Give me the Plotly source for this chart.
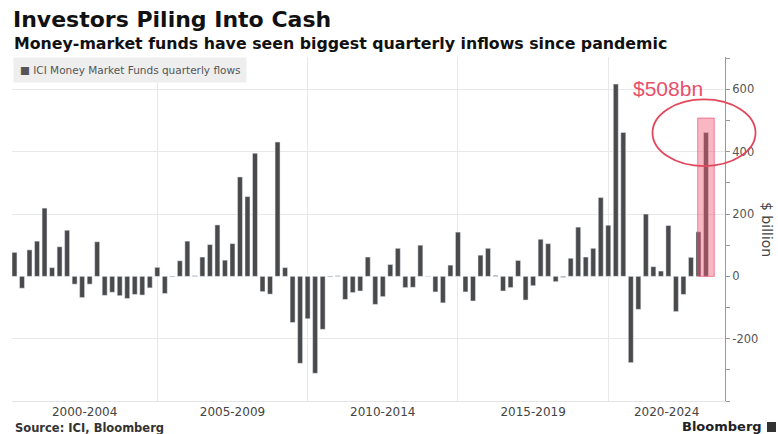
import plotly.graph_objects as go

# ---- data ----
years = list(range(2000, 2024))
quarters = [f"{y}Q{q}" for y in years for q in range(1, 5)][:93]  # 2000Q1 .. 2023Q1
flows = [
    77, -38, 85, 113, 219, 28, 95, 148, -25, -68, -25, 111, -61, -51, -62, -71, -58, -60, -37, 29,
    -55, -2, 50, 113, 2, 62, 102, 165, 52, 105, 319, 256, 395, -49, -57, 431, 28, -148, -279, -136,
    -311, -170, -2, 2, -74, -52, -47, 62, -90, -65, 38, 90, -36, -35, 100, -1, -50, -85, 36, 142,
    -50, -79, 68, 90, 3, -47, -36, 51, -76, -30, 119, 105, -17, -3, 58, 158, 62, 90, 253, 164,
    617, 462, -277, -106, 200, 31, 17, 163, -113, -58, 61, 143, 462,
]
period_labels = ["2000-2004", "2005-2009", "2010-2014", "2015-2019", "2020-2024"]
highlight_value = 508
highlight_label = "$508bn"
y_ticks = [-200, 0, 200, 400, 600]
y_ticktext = ["-200", "0", "200", "400", "600"]

# ---- layout helpers ----
W, H = 778, 434
ML, MR, MT, MB = 12, 53, 57, 33
x_idx = list(range(len(flows)))
x_range = [-0.33, 94.53]
y_range = [-400, 704]
# period boundaries at each Q4 bar (index)
bounds = [19, 39, 59, 79]
edges = [x_range[0]] + bounds + [x_range[1]]
label_pos = [(edges[i] + edges[i + 1]) / 2 for i in range(len(period_labels))]
hi_idx = quarters.index("2023Q1")

def px_x(px):
    return (px - ML) / (W - ML - MR)

def px_y(py):
    return (H - MB - py) / (H - MT - MB)

def idx_to_paper(i):
    return (i - x_range[0]) / (x_range[1] - x_range[0])

fig = go.Figure()
fig.add_trace(go.Bar(
    x=x_idx, y=flows, width=0.66, marker_color="#4a4a4a",
    name="ICI Money Market Funds quarterly flows", showlegend=False,
    customdata=quarters, hovertemplate="%{customdata}: %{y}<extra></extra>",
))

shapes = [
    # highlighted quarter box
    dict(type="rect", xref="x", yref="y", x0=hi_idx - 1.1, x1=hi_idx + 1.1, y0=0, y1=highlight_value,
         fillcolor="rgba(242,95,125,0.45)", line=dict(color="rgba(232,85,115,0.7)", width=1), layer="above"),
    # ellipse around it
    dict(type="circle", xref="paper", yref="y",
         x0=idx_to_paper(hi_idx) - 0.075, x1=idx_to_paper(hi_idx) + 0.0695,
         y0=354, y1=568, line=dict(color="#e2475c", width=1.8), layer="above"),
    # Bloomberg logo square
    dict(type="rect", xref="paper", yref="paper", x0=px_x(767), x1=px_x(776), y0=px_y(432), y1=px_y(422),
         fillcolor="#333", line=dict(width=0)),
]

annotations = [
    dict(text="<b>Money-market funds have seen biggest quarterly inflows since pandemic</b>",
         xref="paper", yref="paper", x=px_x(12), y=px_y(44), xanchor="left", yanchor="middle",
         showarrow=False, font=dict(family="DejaVu Sans", size=15.8, color="#111")),
    dict(text="■ ICI Money Market Funds quarterly flows",
         xref="paper", yref="paper", x=px_x(13), y=px_y(57), xanchor="left", yanchor="top",
         showarrow=False, bgcolor="#eeeeee", borderpad=6,
         font=dict(family="DejaVu Sans", size=10.5, color="#555")),
    dict(text=highlight_label, xref="paper", yref="y", x=px_x(668), y=604,
         xanchor="center", yanchor="middle", showarrow=False,
         font=dict(family="Liberation Sans", size=21, color="#e8506a")),
    dict(text="$ billion", xref="paper", yref="paper", x=px_x(767), y=0.5, textangle=90,
         xanchor="center", yanchor="middle", showarrow=False,
         font=dict(family="DejaVu Sans", size=14, color="#444")),
    dict(text="<b>Source: ICI, Bloomberg</b>", xref="paper", yref="paper", x=px_x(13), y=px_y(428),
         xanchor="left", yanchor="middle", showarrow=False,
         font=dict(family="DejaVu Sans", size=11.5, color="#333")),
    dict(text="<b>Bloomberg</b>", xref="paper", yref="paper", x=px_x(764), y=px_y(427),
         xanchor="right", yanchor="middle", showarrow=False,
         font=dict(family="DejaVu Sans", size=13, color="#222")),
]

fig.update_layout(
    width=W, height=H,
    margin=dict(l=ML, r=MR, t=MT, b=MB, pad=0),
    paper_bgcolor="white", plot_bgcolor="white",
    title=dict(text="<b>Investors Piling Into Cash</b>", xref="container", yref="container",
               x=13 / W, y=1 - 19 / H, xanchor="left", yanchor="middle",
               font=dict(family="DejaVu Sans", size=22, color="#111")),
    bargap=0.34,
    shapes=shapes, annotations=annotations,
    xaxis=dict(range=x_range, tickmode="array", tickvals=label_pos, ticktext=period_labels,
               ticks="", showgrid=False, zeroline=False, showline=True, linecolor="#e4e4e4",
               tickfont=dict(family="DejaVu Sans", size=12, color="#444"),
               minor=dict(tickmode="array", tickvals=bounds, showgrid=True, gridcolor="#e8e8e8",
                          gridwidth=1, ticks="")),
    yaxis=dict(range=y_range, side="right", tickmode="array", tickvals=y_ticks, ticktext=y_ticktext,
               showgrid=True, gridcolor="#e8e8e8", zeroline=True, zerolinecolor="white",
               showline=True, linecolor="#999", ticks="outside", ticklen=4, tickcolor="#999",
               tickfont=dict(family="DejaVu Sans", size=11.5, color="#555"),
               minor=dict(tickmode="array", tickvals=[-400, -300, -100, 100, 300, 500, 700],
                          ticks="outside", ticklen=4, tickcolor="#999", showgrid=False)),
)

fig.write_html("out.html")
